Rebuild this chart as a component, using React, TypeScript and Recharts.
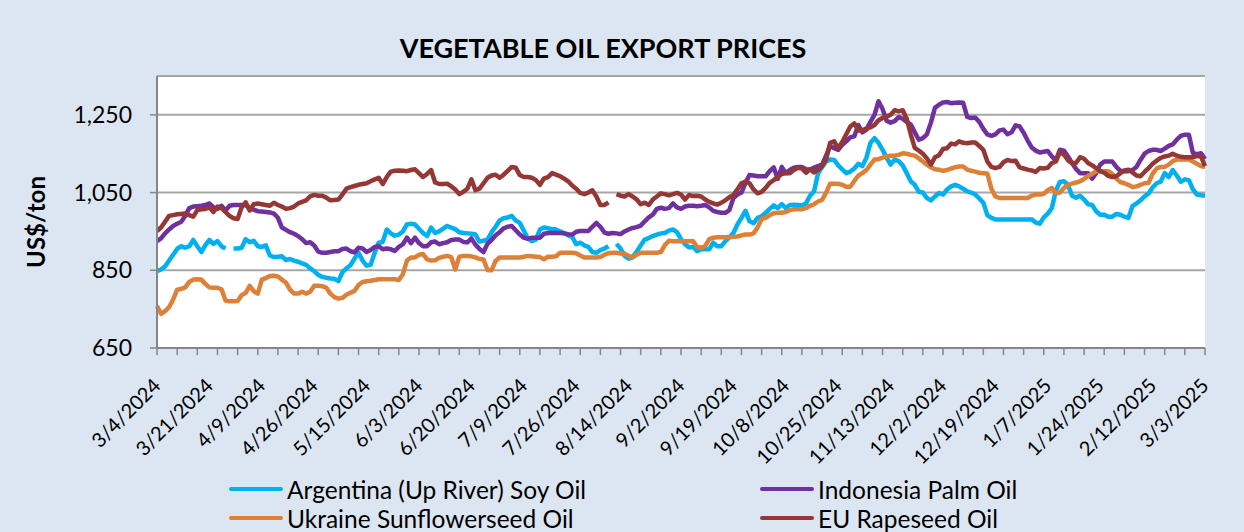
import { LineChart, Line, XAxis, YAxis, CartesianGrid } from "recharts";

// Daily (business day) export prices, US$/ton, 3/4/2024 .. 3/3/2025
const argentina = [
  848, 852, 860, 875, 890, 905, 912, 908, 912, 928,
  912, 897, 915, 928, 918, 925, 912, 906, null, 906,
  906, 908, 930, 922, 926, 912, 910, 914, 888, 884,
  885, 886, 876, 879, 875, 872, 868, 864, 855, 848,
  838, 833, 831, 829, 828, 822, 845, 855, 863, 880,
  895, 875, 862, 864, 895, 921, 923, 955, 945, 939,
  942, 950, 968, 970, 968, 957, 946, 938, 960, 946,
  950, 957, 964, 960, 956, 948, 946, 945, 944, 942,
  924, 926, 929, 948, 962, 978, 984, 986, 990, 978,
  972, 952, 932, 925, 929, 955, 960, 958, 956, 955,
  950, 946, 940, 936, 917, 921, 914, 910, 897, 895,
  902, 906, 912, null, 918, 906, 887, 880, 884, 898,
  914, 929, 933, 938, 942, 945, 946, 952, 955, 948,
  930, 917, 909, 910, 899, 904, 904, 904, 921, 912,
  912, 925, 935, 946, 968, 985, 1003, 976, 971, 985,
  989, 998, 1008, 1017, 1010, 1020, 1010, 1018, 1019, 1018,
  1017, 1022, 1042, 1053, 1100, 1115, 1130, 1135, 1134, 1120,
  1110, 1100, 1104, 1112, 1124, 1118, 1140, 1178, 1190, 1178,
  1160, 1140, 1122, 1135, 1131, 1120, 1100, 1079, 1070, 1052,
  1050, 1036, 1030, 1040, 1049, 1045, 1058, 1066, 1070, 1066,
  1060, 1053, 1050, 1045, 1035, 1024, 992, 985, 981, 981,
  981, 981, 981, 981, 981, 981, 981, 981, 973, 970,
  986, 996, 1010, 1055, 1077, 1079, 1070, 1042, 1037, 1042,
  1032, 1020, 1018, 1002, 993, 993, 988, 988, 995, 993,
  988, 985, 1015, 1022, 1030, 1040, 1048, 1063, 1074, 1078,
  1100, 1090, 1108, 1094, 1078, 1084, 1082, 1058, 1045, 1043,
  1042,
];

const indonesia = [
  925, 932, 945, 955, 964, 970, 975, 990, 1010, 1014,
  1015, 1016, 1018, 1022, 1012, 1008, 1016, 1004, 1016, 1018,
  1018, 1018, 1018, 1010, 1006, 1002, 1001, 1000, 999, 996,
  985, 960, 954, 948, 944, 938, 930, 920, 922, 914,
  898, 895, 895, 897, 899, 899, 905, 906, 899, 896,
  908, 906, 897, 902, 910, 912, 904, 906, 904, 900,
  910, 917, 934, 920, 934, 920, 912, 912, 922, 924,
  917, 920, 922, 928, 929, 929, 923, 922, 932, 916,
  905, 897, 918, 928, 940, 948, 958, 962, 964, 953,
  942, 934, 931, 934, 934, 934, 944, 946, 946, 946,
  946, 945, 943, 942, 949, 951, 951, 951, 962, 972,
  962, 947, 944, 946, 945, 943, 950, 955, 959, 961,
  965, 976, 986, 993, 1008, 1011, 1008, 1010, 1022, 1012,
  1008, 1014, 1016, 1016, 1015, 1016, 1018, 1012, 1003, 1000,
  998, 998, 1005, 1036, 1045, 1050, 1075, 1095, 1094, 1092,
  1092, 1092, 1105, 1115, 1085, 1116, 1100, 1108, 1114, 1116,
  1116, 1110, 1109, 1114, 1118, 1122, 1145, 1170, 1164, 1160,
  1173, 1182, 1192, 1195, 1224, 1205, 1212, 1232, 1250, 1285,
  1265, 1235, 1230, 1234, 1244, 1240, 1232, 1225, 1205, 1186,
  1190, 1200, 1230, 1268, 1276, 1282, 1283, 1280, 1281, 1282,
  1281, 1245, 1242, 1243, 1232, 1214, 1200, 1196, 1200, 1210,
  1212, 1200, 1205, 1223, 1220, 1204, 1184, 1166, 1158, 1153,
  1155, 1157, 1143, 1133, 1160, 1158, 1143, 1126, 1111, 1100,
  1100, 1100, 1086, 1100, 1122, 1130, 1130, 1130, 1116, 1106,
  1105, 1105, 1108, 1116, 1134, 1150, 1157, 1160, 1160, 1157,
  1163, 1170, 1174, 1186, 1196, 1199, 1199, 1152, 1149, 1151,
  1136,
];

const ukraine = [
  758, 738, 745, 755, 775, 800, 802, 806, 820, 826,
  827, 826, 815, 806, 805, 805, 801, 772, 770, 770,
  771, 786, 792, 810, 796, 790, 826, 830, 835, 836,
  834, 826, 818, 800, 790, 790, 795, 790, 795, 810,
  810, 809, 805, 790, 781, 777, 779, 787, 792, 797,
  812, 820, 822, 823, 825, 827, 827, 827, 827, 827,
  825, 840, 875, 883, 883, 890, 892, 878, 875, 876,
  882, 885, 887, 884, 852, 885, 887, 887, 886, 883,
  879, 878, 850, 850, 874, 883, 883, 883, 883, 883,
  883, 885, 887, 886, 885, 884, 878, 885, 885, 886,
  895, 895, 895, 895, 894, 888, 883, 883, 883, 883,
  884, 890, 894, 895, 895, 893, 893, 887, 883, 890,
  895, 895, 895, 895, 895, 897, 915, 926, 925, 925,
  925, 925, 925, 925, 910, 908, 912, 930, 934, 935,
  935, 935, 935, 936, 937, 940, 942, 942, 945, 960,
  982, 985, 992, 997, 998, 998, 1000, 1005, 1007, 1007,
  1007, 1010, 1016, 1020, 1027, 1031, 1050, 1073, 1073, 1073,
  1070, 1065, 1065, 1080, 1094, 1100, 1108, 1122, 1135, 1136,
  1140, 1143, 1145, 1145, 1147, 1151, 1150, 1147, 1145, 1138,
  1130, 1122, 1115, 1110, 1109, 1106, 1108, 1112, 1115, 1117,
  1117, 1109, 1106, 1104, 1101, 1100, 1099, 1060, 1040, 1036,
  1036, 1036, 1036, 1036, 1036, 1036, 1036, 1042, 1045, 1045,
  1047, 1056, 1062, 1048, 1050, 1062, 1070, 1073, 1076, 1079,
  1085, 1093, 1098, 1105, 1105, 1105, 1105, 1098, 1086, 1077,
  1074, 1070, 1064, 1066, 1070, 1074, 1075, 1098, 1112, 1116,
  1116, 1122, 1131, 1135, 1135, 1135, 1135, 1130, 1124, 1118,
  1116,
];

const rapeseed = [
  951, 960, 975, 990, 992, 994, 995, 996, 992, 988,
  1005, 1007, 1008, 1012, 1000, 1014, 1010, 1000, 990, 984,
  982, 1012, 1025, 1004, 1020, 1022, 1020, 1018, 1016, 1024,
  1018, 1014, 1008, 1010, 1014, 1022, 1026, 1030, 1040, 1044,
  1042, 1042, 1037, 1030, 1031, 1032, 1045, 1060, 1064, 1067,
  1070, 1072, 1074, 1079, 1084, 1088, 1072, 1090, 1104, 1106,
  1107, 1106, 1105, 1108, 1110, 1100, 1090, 1098, 1108, 1076,
  1072, 1072, 1073, 1066, 1058, 1046, 1052, 1060, 1084, 1056,
  1060, 1074, 1088, 1094, 1096, 1088, 1096, 1106, 1116, 1114,
  1095, 1090, 1090, 1088, 1082, 1070, 1086, 1090, 1100, 1096,
  1092, 1086, 1079, 1068, 1060, 1049, 1046, 1050, 1056, 1040,
  1018, 1018, 1025, null, 1046, 1042, 1040, 1046, 1040, 1032,
  1020, 1024, 1018, 1032, 1040, 1048, 1046, 1043, 1046, 1049,
  1045, 1032, 1044, 1041, 1042, 1040, 1032, 1026, 1022, 1019,
  1024, 1030, 1038, 1044, 1058, 1074, 1078, 1074, 1058, 1048,
  1052, 1062, 1075, 1082, 1090, 1098, 1100, 1100, 1108, 1114,
  1112, 1101, 1110, 1102, 1108, 1118, 1135, 1178, 1182, 1164,
  1180, 1200, 1220, 1228, 1210, 1210, 1215, 1218, 1224, 1236,
  1242, 1246, 1250, 1262, 1259, 1262, 1240, 1200, 1165, 1158,
  1150, 1138, 1122, 1141, 1146, 1162, 1164, 1176, 1174, 1182,
  1178, 1177, 1179, 1179, 1170, 1160, 1130, 1116, 1113, 1116,
  1128, 1134, 1131, 1132, 1115, 1112, 1109, 1107, 1103, 1113,
  1112, 1114, 1126, 1130, 1154, 1148, 1133, 1126, 1126, 1141,
  1137, 1126, 1120, 1113, 1105, 1101, 1093, 1090, 1092, 1100,
  1107, 1109, 1102, 1094, 1092, 1103, 1113, 1124, 1132, 1139,
  1143, 1145, 1150, 1145, 1142, 1141, 1141, 1141, 1144, 1143,
  1118,
];

// one label every 13 business days
const tickLabels = [
  "3/4/2024", "3/21/2024", "4/9/2024", "4/26/2024", "5/15/2024", "6/3/2024",
  "6/20/2024", "7/9/2024", "7/26/2024", "8/14/2024", "9/2/2024", "9/19/2024",
  "10/8/2024", "10/25/2024", "11/13/2024", "12/2/2024", "12/19/2024",
  "1/7/2025", "1/24/2025", "2/12/2025", "3/3/2025",
];
const yTicks = [650, 850, 1050, 1250];

const series = [
  { key: "arg", name: "Argentina (Up River) Soy Oil", color: "#00B0F0" },
  { key: "idn", name: "Indonesia Palm Oil", color: "#7030A0" },
  { key: "ukr", name: "Ukraine Sunflowerseed Oil", color: "#DD8038" },
  { key: "eu", name: "EU Rapeseed Oil", color: "#953735" },
];

const data = argentina.map((v, i) => ({
  i,
  arg: v,
  idn: indonesia[i],
  ukr: ukraine[i],
  eu: rapeseed[i],
}));

const LAST = argentina.length - 1;
const LABEL_STEP = 13;
const MINOR_STEP = 5;
const xTicks = data
  .map((d) => d.i)
  .filter((i) => i % MINOR_STEP === 0 || i % LABEL_STEP === 0);

const FONT = "Lato, 'Open Sans', sans-serif";
const AXIS = "#868686";

function XTick({ x, y, payload }: any) {
  const v = payload.value as number;
  const ax = x + 5;
  const ay = y + 39;
  return (
    <g>
      {v % MINOR_STEP === 0 && (
        <line x1={x} x2={x} y1={y} y2={y + 7} stroke={AXIS} strokeWidth={1.5} />
      )}
      {v % LABEL_STEP === 0 && (
        <text
          x={ax}
          y={ay}
          transform={`rotate(-45 ${ax} ${ay})`}
          textAnchor="end"
          fontSize={20}
          fontFamily={FONT}
          fill="#000"
        >
          {tickLabels[v / LABEL_STEP]}
        </text>
      )}
    </g>
  );
}

export default function App() {
  return (
    <div
      style={{
        position: "absolute",
        left: 0,
        top: 0,
        width: 1244,
        height: 532,
        background: "#DCE6F2",
        fontFamily: FONT,
        overflow: "hidden",
      }}
    >
      <div
        style={{
          position: "absolute",
          left: 0,
          top: 32,
          width: 1206,
          textAlign: "center",
          fontSize: 27,
          lineHeight: "32px",
          fontWeight: 700,
          color: "#000",
        }}
      >
        VEGETABLE OIL EXPORT PRICES
      </div>
      <div
        style={{
          position: "absolute",
          left: 35,
          top: 222,
          transform: "translate(-50%, -50%) rotate(-90deg)",
          fontSize: 24,
          fontWeight: 700,
          whiteSpace: "nowrap",
          color: "#000",
        }}
      >
        US$/ton
      </div>

      <LineChart
        width={1244}
        height={532}
        data={data}
        margin={{ top: 76, right: 39, bottom: 84, left: 0 }}
        style={{ position: "absolute", left: 0, top: 0 }}
      >
        <CartesianGrid vertical={false} stroke="#A6A6A6" strokeWidth={2} fill="#FFFFFF" />
        <XAxis
          dataKey="i"
          type="number"
          domain={[0, LAST]}
          ticks={xTicks}
          interval={0}
          tick={<XTick />}
          tickLine={false}
          tickSize={0}
          tickMargin={0}
          axisLine={{ stroke: AXIS, strokeWidth: 2 }}
          height={100}
        />
        <YAxis
          type="number"
          domain={[650, 1350]}
          ticks={yTicks}
          interval={0}
          width={157}
          tickSize={7}
          tickMargin={18}
          tickLine={{ stroke: AXIS, strokeWidth: 1.5 }}
          axisLine={{ stroke: AXIS, strokeWidth: 2 }}
          tick={{ fill: "#000", fontSize: 23, fontFamily: FONT }}
          tickFormatter={(v: number) => v.toLocaleString("en-US")}
        />
        {series.map((s) => (
          <Line
            key={s.key}
            type="linear"
            dataKey={s.key}
            name={s.name}
            stroke={s.color}
            strokeWidth={4.5}
            strokeLinejoin="round"
            dot={false}
            activeDot={false}
            isAnimationActive={false}
          />
        ))}
      </LineChart>

      {series.map((s, k) => (
        <div
          key={s.key}
          style={{
            position: "absolute",
            left: k % 2 === 0 ? 229 : 760,
            top: k < 2 ? 475 : 504,
            height: 28,
            display: "flex",
            alignItems: "center",
            fontSize: 24.5,
            color: "#000",
            whiteSpace: "nowrap",
          }}
        >
          <span
            style={{
              display: "inline-block",
              width: 54,
              height: 4,
              background: s.color,
              borderRadius: 2,
              marginRight: 4,
            }}
          />
          {s.name}
        </div>
      ))}
    </div>
  );
}
